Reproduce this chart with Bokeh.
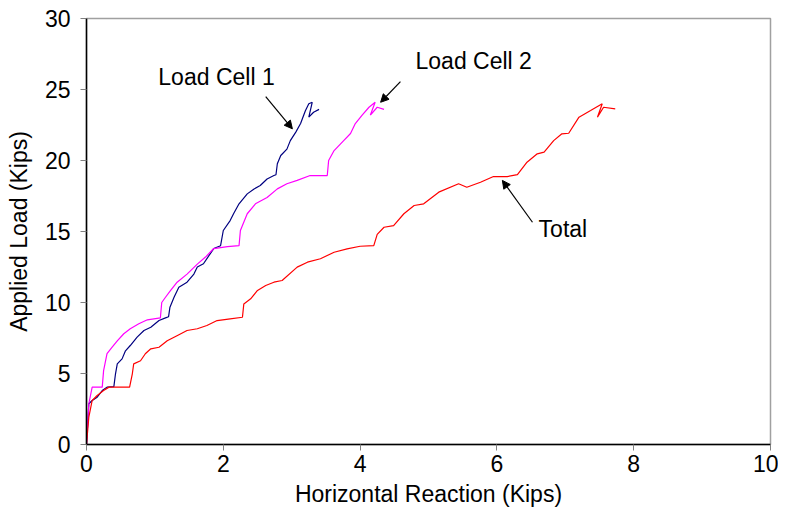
from bokeh.plotting import figure
from bokeh.models import Range1d, FixedTicker, Arrow, NormalHead, Label
from bokeh.embed import file_html
from bokeh.resources import INLINE

# Load Cell 1 (navy)
x_cell1 = [0.0, 0.034, 0.083, 0.156, 0.23, 0.30, 0.40, 0.424, 0.45, 0.52, 0.57, 0.64, 0.74, 0.84, 0.94, 1.06, 1.155, 1.20,
           1.22, 1.28, 1.35, 1.47, 1.57, 1.62, 1.71, 1.79, 1.86, 1.96, 2.0, 2.1, 2.15, 2.23, 2.35, 2.45, 2.54, 2.64, 2.74, 2.77,
           2.79, 2.84, 2.93, 2.98, 3.06, 3.13, 3.2, 3.25, 3.3, 3.25, 3.32, 3.4]
y_cell1 = [0.0, 2.87, 3.1, 3.33, 3.8, 4.04, 4.08, 4.98, 5.68, 6.03, 6.6, 6.97, 7.56, 8.03, 8.26, 8.73, 8.92, 9.0,
           9.67, 10.37, 11.08, 11.43, 12.0, 12.5, 12.73, 13.3, 13.8, 14.0, 15.07, 15.77, 16.25, 16.95, 17.65, 18.0, 18.24, 18.7, 18.94, 19.0,
           19.77, 20.35, 20.8, 21.4, 22.0, 22.6, 23.5, 24.0, 24.1, 23.05, 23.4, 23.6]

# Load Cell 2 (magenta)
x_cell2 = [0.0, 0.034, 0.083, 0.23, 0.25, 0.30, 0.375, 0.45, 0.545, 0.64, 0.765, 0.89, 1.08,
           1.1, 1.155, 1.23, 1.325, 1.47, 1.62, 1.74, 1.86, 2.06, 2.23, 2.25, 2.35, 2.47, 2.64, 2.79, 2.93, 3.08,
           3.27, 3.52, 3.54, 3.62, 3.76, 3.86, 3.93, 4.03, 4.13, 4.22, 4.15, 4.25, 4.35]
y_cell2 = [0.0, 2.87, 4.04, 4.04, 5.2, 6.4, 6.85, 7.3, 7.8, 8.15, 8.5, 8.78, 8.92,
           10.0, 10.37, 10.85, 11.43, 12.0, 12.7, 13.2, 13.8, 13.94, 14.0, 15.07, 16.25, 16.95, 17.4, 18.0, 18.36, 18.6,
           18.94, 18.94, 20.0, 20.7, 21.4, 21.9, 22.6, 23.2, 23.75, 24.1, 23.2, 23.75, 23.6]

# Total (red)
x_total = [0.0, 0.034, 0.083, 0.156, 0.25, 0.33, 0.63, 0.67, 0.69, 0.79, 0.86, 0.94, 1.06, 1.18, 1.33, 1.47, 1.62, 1.76, 1.91,
           2.1, 2.28, 2.3, 2.4, 2.5, 2.62, 2.74, 2.86, 3.08, 3.23, 3.42, 3.62, 3.81, 4.0, 4.2, 4.25, 4.35, 4.49, 4.64,
           4.79, 4.93, 5.15, 5.44, 5.56, 5.76, 5.95, 6.15, 6.3, 6.44, 6.59, 6.69, 6.83, 6.95, 7.05, 7.2, 7.37, 7.54,
           7.47, 7.56, 7.73]
y_total = [0.0, 1.92, 3.1, 3.45, 3.8, 4.04, 4.04, 4.98, 5.68, 5.9, 6.39, 6.74, 6.85, 7.3, 7.68, 8.03, 8.15, 8.38, 8.73,
           8.85, 8.96, 9.9, 10.26, 10.85, 11.2, 11.43, 11.55, 12.49, 12.84, 13.08, 13.54, 13.78, 13.96, 14.0, 14.8, 15.3, 15.42, 16.25,
           16.83, 16.95, 17.77, 18.36, 18.12, 18.47, 18.87, 18.87, 19.0, 19.88, 20.47, 20.59, 21.4, 21.88, 21.92, 23.05, 23.52, 24.0,
           23.05, 23.75, 23.64]

x_ticks = [0, 2, 4, 6, 8, 10]
y_ticks = [0, 5, 10, 15, 20, 25, 30]

# annotations
ann_text = ["Load Cell 1", "Load Cell 2", "Total"]
ann_tx = [1.05, 4.81, 6.61]
ann_ty = [25.85, 27.04, 15.2]
arr_x0 = [2.62, 4.59, 6.52]
arr_y0 = [24.5, 25.55, 15.65]
arr_x1 = [3.01, 4.30, 6.08]
arr_y1 = [22.23, 24.1, 18.6]

FONT = "Liberation Sans"
FS = "23px"

p = figure(width=778, height=514, output_backend="svg", toolbar_location=None,
           x_range=Range1d(0, 10), y_range=Range1d(0, 30),
           min_border_left=86, min_border_top=18, min_border_right=8, min_border_bottom=70)
p.xgrid.visible = False
p.ygrid.visible = False
p.outline_line_color = "#a0a0a0"
p.outline_line_width = 1.5

p.line(x_cell1, y_cell1, line_color="#000080", line_width=1.2)
p.line(x_cell2, y_cell2, line_color="#FF00FF", line_width=1.2)
p.line(x_total, y_total, line_color="#FF0000", line_width=1.2)

for ax, ticks in ((p.xaxis[0], x_ticks), (p.yaxis[0], y_ticks)):
    ax.ticker = FixedTicker(ticks=ticks)
    ax.minor_tick_line_color = None
    ax.major_tick_in = 0
    ax.major_tick_out = 6
    ax.axis_line_color = "black"
    ax.axis_line_width = 1.5
    ax.major_tick_line_color = "#808080"
    ax.major_label_text_font = FONT
    ax.major_label_text_font_size = FS
    ax.major_label_text_color = "black"
    ax.axis_label_text_font = FONT
    ax.axis_label_text_font_size = FS
    ax.axis_label_text_font_style = "normal"
    ax.axis_label_text_color = "black"

p.xaxis.axis_label = "Horizontal Reaction (Kips)"
p.yaxis.axis_label = "Applied Load (Kips)"
p.xaxis.major_label_standoff = 4
p.xaxis.axis_label_standoff = 6
p.yaxis.major_label_standoff = 10
p.yaxis.axis_label_standoff = 10

for i in range(3):
    p.add_layout(Label(x=ann_tx[i], y=ann_ty[i], text=ann_text[i], text_font=FONT,
                       text_font_size=FS, text_color="black", text_baseline="middle",
                       text_align="left"))
    p.add_layout(Arrow(x_start=arr_x0[i], y_start=arr_y0[i], x_end=arr_x1[i], y_end=arr_y1[i],
                       line_color="black", line_width=1.2,
                       end=NormalHead(size=8, fill_color="black", line_color="black")))

open("out.html", "w").write(file_html(p, INLINE))
